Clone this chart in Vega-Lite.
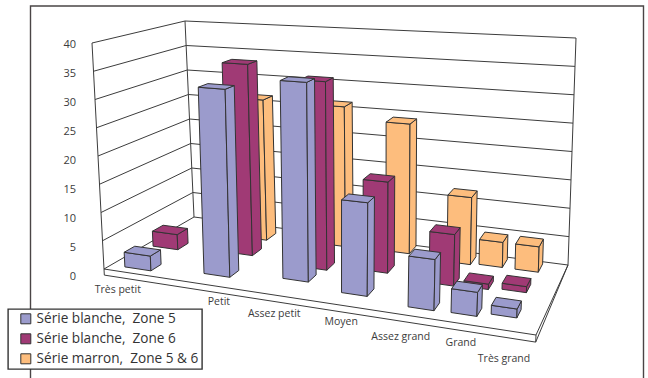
{
  "$schema": "https://vega.github.io/schema/vega-lite/v6.json",
  "width": 648,
  "height": 378,
  "padding": 0,
  "autosize": {"type": "none"},
  "background": "white",
  "config": {"view": {"stroke": null}, "font": "Open Sans", "legend": {"strokeWidth": 1.4}},
  "layer": [
    {
      "data": {"values": [{"frame": "outer"}]},
      "mark": {"type": "rect", "fill": "white", "stroke": "#4a4546", "strokeWidth": 1.4},
      "encoding": {
        "x": {"datum": 30.5, "type": "quantitative", "scale": {"domain": [0, 648], "range": [0, 648]}, "axis": null},
        "x2": {"datum": 643.5},
        "y": {"datum": 6, "type": "quantitative", "scale": {"domain": [378, 0], "range": [378, 0]}, "axis": null},
        "y2": {"datum": 400}
      }
    },
    {
      "data": {"values": [{"value": 0}, {"value": 5}, {"value": 10}, {"value": 15}, {"value": 20}, {"value": 25}, {"value": 30}, {"value": 35}, {"value": 40}]},
      "transform": [
        {"calculate": "[0,1,2]", "as": "corner"},
        {"flatten": ["corner"]},
        {"calculate": "[0,0,1][datum.corner]", "as": "S"},
        {"calculate": "[0,1,1][datum.corner]", "as": "T"},
        {"calculate": "datum.value/40", "as": "Z"},
        {"calculate": "(1-datum.T)*((1-datum.S)*(104-12*datum.Z)+datum.S*(536+11*datum.Z))+datum.T*((1-datum.S)*(194-9*datum.Z)+datum.S*(568+8*datum.Z))", "as": "px"},
        {"calculate": "(1-datum.T)*((1-datum.S)*(269-226*datum.Z)+datum.S*(335-263*datum.Z))+datum.T*((1-datum.S)*(217-196*datum.Z)+datum.S*(265-227*datum.Z))", "as": "py"}
      ],
      "mark": {"type": "line", "stroke": "#3c3c3c", "strokeWidth": 1, "interpolate": "linear"},
      "encoding": {
        "x": {"field": "px", "type": "quantitative", "scale": {"domain": [0, 648], "range": [0, 648]}, "axis": null},
        "y": {"field": "py", "type": "quantitative", "scale": {"domain": [378, 0], "range": [378, 0]}, "axis": null},
        "detail": {"field": "value"},
        "order": {"field": "corner"}
      }
    },
    {
      "data": {"values": [
        {"part": "frontCorner"}, {"part": "backLeftCorner"}, {"part": "backRightCorner"},
        {"part": "floorFront"}, {"part": "floorRight"}, {"part": "slabFront"},
        {"part": "slabLeft"}, {"part": "slabRightEnd"}, {"part": "slabSide"}
      ]},
      "transform": [
        {"calculate": "[0,1]", "as": "corner"},
        {"flatten": ["corner"]},
        {"calculate": "{frontCorner:[0,0],backLeftCorner:[0,0],backRightCorner:[1,1],floorFront:[0,1],floorRight:[1,1],slabFront:[0,1],slabLeft:[0,0],slabRightEnd:[1,1],slabSide:[1,1]}[datum.part][datum.corner]", "as": "S"},
        {"calculate": "{frontCorner:[0,0],backLeftCorner:[1,1],backRightCorner:[1,1],floorFront:[0,0],floorRight:[0,1],slabFront:[0,0],slabLeft:[0,0],slabRightEnd:[0,0],slabSide:[0,1]}[datum.part][datum.corner]", "as": "T"},
        {"calculate": "{frontCorner:[0,1],backLeftCorner:[0,1],backRightCorner:[0,1],floorFront:[0,0],floorRight:[0,0],slabFront:[-0.027,-0.027],slabLeft:[0,-0.027],slabRightEnd:[0,-0.027],slabSide:[-0.027,0]}[datum.part][datum.corner]", "as": "Z"},
        {"calculate": "(1-datum.T)*((1-datum.S)*(104-12*datum.Z)+datum.S*(536+11*datum.Z))+datum.T*((1-datum.S)*(194-9*datum.Z)+datum.S*(568+8*datum.Z))", "as": "px"},
        {"calculate": "(1-datum.T)*((1-datum.S)*(269-226*datum.Z)+datum.S*(335-263*datum.Z))+datum.T*((1-datum.S)*(217-196*datum.Z)+datum.S*(265-227*datum.Z))", "as": "py"}
      ],
      "mark": {"type": "line", "stroke": "#3c3c3c", "strokeWidth": 1, "interpolate": "linear"},
      "encoding": {
        "x": {"field": "px", "type": "quantitative", "scale": {"domain": [0, 648], "range": [0, 648]}, "axis": null},
        "y": {"field": "py", "type": "quantitative", "scale": {"domain": [378, 0], "range": [378, 0]}, "axis": null},
        "detail": {"field": "part"},
        "order": {"field": "corner"}
      }
    },
    {
      "data": {"values": [
        {"category": "Petit", "series": "Série marron,  Zone 5 & 6", "value": 26.7},
        {"category": "Assez petit", "series": "Série marron,  Zone 5 & 6", "value": 26.1},
        {"category": "Moyen", "series": "Série marron,  Zone 5 & 6", "value": 23.7},
        {"category": "Assez grand", "series": "Série marron,  Zone 5 & 6", "value": 11.9},
        {"category": "Grand", "series": "Série marron,  Zone 5 & 6", "value": 4.4},
        {"category": "Très grand", "series": "Série marron,  Zone 5 & 6", "value": 4.4},
        {"category": "Très petit", "series": "Série blanche,  Zone 6", "value": 2.8},
        {"category": "Petit", "series": "Série blanche,  Zone 6", "value": 35},
        {"category": "Assez petit", "series": "Série blanche,  Zone 6", "value": 33.2},
        {"category": "Moyen", "series": "Série blanche,  Zone 6", "value": 15.9},
        {"category": "Assez grand", "series": "Série blanche,  Zone 6", "value": 8.7},
        {"category": "Grand", "series": "Série blanche,  Zone 6", "value": 0.9},
        {"category": "Très grand", "series": "Série blanche,  Zone 6", "value": 1},
        {"category": "Très petit", "series": "Série blanche,  Zone 5", "value": 2.6},
        {"category": "Petit", "series": "Série blanche,  Zone 5", "value": 32.6},
        {"category": "Assez petit", "series": "Série blanche,  Zone 5", "value": 34.2},
        {"category": "Moyen", "series": "Série blanche,  Zone 5", "value": 15.5},
        {"category": "Assez grand", "series": "Série blanche,  Zone 5", "value": 8.2},
        {"category": "Grand", "series": "Série blanche,  Zone 5", "value": 3.8},
        {"category": "Très grand", "series": "Série blanche,  Zone 5", "value": 1.4}
      ]},
      "transform": [
        {"calculate": "indexof(datum.series,'marron')>=0 ? 2 : (indexof(datum.series,'Zone 6')>=0 ? 1 : 0)", "as": "rank"},
        {"calculate": "[{'Très petit':0.032,'Petit':0.2025,'Assez petit':0.373,'Moyen':0.525,'Assez grand':0.69,'Grand':0.79,'Très grand':0.879},{'Très petit':0.019,'Petit':0.19,'Assez petit':0.385,'Moyen':0.524,'Assez grand':0.695,'Grand':0.779,'Très grand':0.871},{'Petit':0.176,'Assez petit':0.37,'Moyen':0.534,'Assez grand':0.699,'Grand':0.78,'Très grand':0.874}][datum.rank][datum.category]", "as": "s0"},
        {"calculate": "[{'Très petit':0.08,'Petit':0.16,'Assez petit':0.26,'Moyen':0.18,'Assez grand':0.12,'Grand':0.13,'Très grand':0.19},{'Très petit':0.46,'Petit':0.53,'Assez petit':0.47,'Moyen':0.55,'Assez grand':0.5,'Grand':0.52,'Très grand':0.55},{'Petit':0.79,'Assez petit':0.85,'Moyen':0.87,'Assez grand':0.83,'Grand':0.85,'Très grand':0.85}][datum.rank][datum.category]", "as": "t0"},
        {"calculate": "[0,1,2]", "as": "face"},
        {"flatten": ["face"]},
        {"calculate": "[0,1,2,3,4]", "as": "corner"},
        {"flatten": ["corner"]},
        {"calculate": "datum.series+'|'+datum.category+'|'+datum.face", "as": "polygon"},
        {"calculate": "datum.s0+0.061*[[0,1,1,0,0],[1,1,1,1,1],[0,1,1,0,0]][datum.face][datum.corner]", "as": "S"},
        {"calculate": "datum.t0+0.12*[[0,0,0,0,0],[0,1,1,0,0],[0,0,1,1,0]][datum.face][datum.corner]", "as": "T"},
        {"calculate": "datum.value/40*[[0,0,1,1,0],[0,0,1,1,0],[1,1,1,1,1]][datum.face][datum.corner]", "as": "Z"},
        {"calculate": "(1-datum.T)*((1-datum.S)*(104-12*datum.Z)+datum.S*(536+11*datum.Z))+datum.T*((1-datum.S)*(194-9*datum.Z)+datum.S*(568+8*datum.Z))", "as": "px"},
        {"calculate": "(1-datum.T)*((1-datum.S)*(269-226*datum.Z)+datum.S*(335-263*datum.Z))+datum.T*((1-datum.S)*(217-196*datum.Z)+datum.S*(265-227*datum.Z))", "as": "py"},
        {"calculate": "replace(datum.series,',  ',',\u00a0 ')", "as": "seriesLabel"}
      ],
      "mark": {"type": "line", "filled": true, "stroke": "#333333", "strokeWidth": 1, "strokeJoin": "round", "interpolate": "linear"},
      "encoding": {
        "x": {"field": "px", "type": "quantitative", "scale": {"domain": [0, 648], "range": [0, 648]}, "axis": null},
        "y": {"field": "py", "type": "quantitative", "scale": {"domain": [378, 0], "range": [378, 0]}, "axis": null},
        "detail": {"field": "polygon"},
        "order": {"field": "corner"},
        "fill": {
          "field": "seriesLabel",
          "type": "nominal",
          "scale": {
            "domain": ["Série blanche,\u00a0 Zone 5", "Série blanche,\u00a0 Zone 6", "Série marron,\u00a0 Zone 5 & 6"],
            "range": ["#9b9bcc", "#a03a75", "#fdbd7d"]
          },
          "legend": {
            "title": null,
            "orient": "none",
            "legendX": 8,
            "legendY": 309,
            "padding": 3,
            "fillColor": "white",
            "strokeColor": "#333333",
            "symbolType": "square",
            "symbolSize": 100,
            "symbolOffset": 8,
            "symbolStrokeColor": "#333333",
            "symbolStrokeWidth": 1,
            "labelFont": "Open Sans",
            "labelFontSize": 13.6,
            "labelColor": "#333333",
            "labelLimit": 300,
            "rowPadding": 5,
            "labelOffset": 4
          }
        }
      }
    },
    {
      "data": {"values": [{"value": 0}, {"value": 5}, {"value": 10}, {"value": 15}, {"value": 20}, {"value": 25}, {"value": 30}, {"value": 35}, {"value": 40}]},
      "transform": [
        {"calculate": "76", "as": "px"},
        {"calculate": "277-232*datum.value/40", "as": "py"}
      ],
      "mark": {"type": "text", "align": "right", "baseline": "middle", "font": "Open Sans", "fontSize": 11, "fill": "#3c3c3c"},
      "encoding": {
        "x": {"field": "px", "type": "quantitative", "scale": {"domain": [0, 648], "range": [0, 648]}, "axis": null},
        "y": {"field": "py", "type": "quantitative", "scale": {"domain": [378, 0], "range": [378, 0]}, "axis": null},
        "text": {"field": "value", "type": "nominal"}
      }
    },
    {
      "data": {"values": [
        {"category": "Très petit"}, {"category": "Petit"}, {"category": "Assez petit"}, {"category": "Moyen"},
        {"category": "Assez grand"}, {"category": "Grand"}, {"category": "Très grand"}
      ]},
      "transform": [
        {"calculate": "{'Très petit':0.032,'Petit':0.266,'Assez petit':0.394,'Moyen':0.549,'Assez grand':0.687,'Grand':0.826,'Très grand':0.926}[datum.category]", "as": "S"},
        {"calculate": "{'Très petit':-0.084,'Petit':-0.066,'Assez petit':-0.079,'Moyen':-0.069,'Assez grand':-0.092,'Grand':-0.076,'Très grand':-0.112}[datum.category]", "as": "Z"},
        {"calculate": "(1-datum.S)*104+datum.S*536", "as": "px"},
        {"calculate": "(1-datum.S)*(269-226*datum.Z)+datum.S*(335-263*datum.Z)", "as": "py"}
      ],
      "mark": {"type": "text", "align": "center", "baseline": "middle", "font": "Open Sans", "fontSize": 10.5, "fill": "#3c3c3c"},
      "encoding": {
        "x": {"field": "px", "type": "quantitative", "scale": {"domain": [0, 648], "range": [0, 648]}, "axis": null},
        "y": {"field": "py", "type": "quantitative", "scale": {"domain": [378, 0], "range": [378, 0]}, "axis": null},
        "text": {"field": "category", "type": "nominal"}
      }
    }
  ]
}
